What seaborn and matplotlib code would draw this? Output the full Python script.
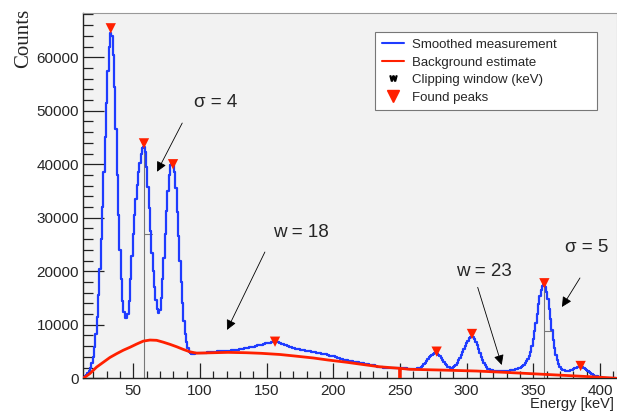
import numpy as np
import pandas as pd
import matplotlib
matplotlib.use("Agg")
import matplotlib.pyplot as plt
import seaborn as sns
from matplotlib.lines import Line2D

# spectrum, three pieces: 1 keV bins 13-100, 2 keV bins 102-264, 1 keV bins 265-412
energia_1 = np.arange(13, 101)
conteggi_1 = [
    200, 400, 600, 900, 1300, 1900, 2800, 4000, 5800, 8300,
    11500, 15500, 20500, 26000, 32000, 38500, 45000, 51500, 57500, 62000,
    64500, 64000, 60500, 54500, 46500, 38000, 30500, 24000, 18500, 14500,
    12300, 11300, 11200, 12000, 14500, 18500, 22800, 27000, 30500, 33500,
    36200, 38500, 40300, 41900, 43000, 43300, 42300, 39500, 35800, 31800,
    27500, 23500, 20000, 17000, 14600, 12900, 12200, 12800, 15000, 18500,
    22500, 27000, 31300, 35000, 38000, 39800, 40100, 39800, 38500, 35500,
    31000, 26500, 22000, 18000, 14000, 10800, 8300, 6700, 5600, 5000,
    4700, 4550, 4500, 4550, 4650, 4750, 4780, 4780,
]
energia_2 = np.arange(102, 265, 2)
conteggi_2 = [
    4750, 4800, 4850, 4900, 4950, 5000, 5050, 5080, 5100, 5130,
    5160, 5220, 5300, 5380, 5450, 5520, 5600, 5700, 5820, 5930,
    6040, 6170, 6300, 6420, 6550, 6650, 6750, 6830, 6800, 6600,
    6400, 6230, 6000, 5800, 5650, 5500, 5420, 5350, 5260, 5170,
    5080, 5000, 4900, 4800, 4700, 4600, 4480, 4380, 4250, 4100,
    3950, 3800, 3650, 3500, 3400, 3300, 3200, 3100, 3000, 2900,
    2800, 2700, 2600, 2500, 2400, 2280, 2180, 2080, 2000, 1950,
    1920, 1900, 1880, 1870, 1860, 1850, 1840, 1820, 1800, 1790,
    1800, 1850,
]
energia_3 = np.arange(265, 413)
conteggi_3 = [
    1950, 2100, 2300, 2600, 2950, 3300, 3650, 3950, 4200, 4400,
    4550, 4650, 4680, 4600, 4400, 4100, 3750, 3400, 3050, 2750,
    2450, 2200, 2050, 1950, 1950, 2050, 2250, 2550, 2900, 3350,
    3850, 4350, 4900, 5450, 6000, 6550, 7050, 7450, 7700, 7800,
    7700, 7350, 6850, 6200, 5500, 4750, 4050, 3400, 2850, 2400,
    2050, 1800, 1650, 1550, 1480, 1430, 1400, 1380, 1370, 1360,
    1360, 1360, 1360, 1370, 1380, 1400, 1420, 1440, 1470, 1510,
    1560, 1630, 1700, 1780, 1870, 1980, 2120, 2300, 2520, 2800,
    3150, 3600, 4200, 5000, 6000, 7300, 8800, 10400, 12100, 13800,
    15300, 16500, 17200, 17400, 17100, 16200, 14800, 13000, 11000, 9000,
    7200, 5700, 4400, 3400, 2700, 2150, 1800, 1600, 1480, 1420,
    1400, 1400, 1430, 1500, 1600, 1720, 1850, 1980, 2090, 2170,
    2200, 2170, 2080, 1950, 1780, 1580, 1380, 1180, 990, 810,
    650, 520, 420, 340, 280, 230, 190, 150, 120, 95,
    75, 55, 40, 30, 20, 12, 6, 0,
]

# background estimate
fondo_x = [12.5, 17.5, 22.5, 27.5, 32.5, 37.5, 42.5, 47.5, 52.5, 57.5,
           62.5, 67.5, 72.5, 77.5, 82.5, 87.5, 92.5, 97.5, 110, 121,
           135, 146, 160, 171, 185, 196, 210, 221, 235, 249.6,
           250, 250.4, 257.5, 280, 307.5, 330, 357.5, 382.5, 400, 412.5]
fondo_y = [0, 900, 2100, 3000, 3900, 4600, 5250, 5800, 6400, 6950,
           7150, 7100, 6750, 6350, 5900, 5400, 4950, 4700, 4780, 4850,
           4780, 4670, 4450, 4170, 3800, 3420, 3000, 2620, 2150, 1870,
           0, 1850, 1680, 1550, 1360, 1100, 750, 430, 200, 0]

# found peaks (marker positions)
picchi_x = [33.1, 58.0, 79.8, 156.3, 277.5, 304.0, 358.3, 385.5]
picchi_y = [65400, 43900, 40000, 6840, 4980, 8280, 17760, 2300]

# peak position / width markers
marca_x = [58.3, 358.3]
marca_top = [43300, 17300]
marca_meta = [26900, 8840]
marca_dx = [5.5, 5.5]

# annotations: text, text position, arrow start, arrow end
note_testo = ["σ = 4", "w = 18", "w = 23", "σ = 5"]
note_pos = [(112, 51500), (176, 27300), (313, 20000), (390, 24500)]
note_da = [(86.7, 47700), (148.7, 23600), (308.3, 17000), (385, 18750)]
note_a = [(67.8, 38600), (120.3, 9040), (326.3, 2490), (371.5, 13330)]

sns.set_theme(style="ticks")
plt.rcParams["font.family"] = ["Liberation Sans", "DejaVu Sans"]

fig = plt.figure(figsize=(6.17, 4.13), dpi=100)
ax = fig.add_axes([0.135, 0.084, 0.8644, 0.885])
ax.set_facecolor("#f2f2f2")

blu = "#1f3cff"
rosso = "#ff2000"

df = pd.DataFrame({
    "Energia": np.concatenate([energia_1, energia_2, energia_3]),
    "Conteggi": conteggi_1 + conteggi_2 + conteggi_3,
})
sns.lineplot(data=df, x="Energia", y="Conteggi", ax=ax, color=blu, lw=1.6,
             drawstyle="steps-mid", zorder=3)
sns.lineplot(x=fondo_x, y=fondo_y, ax=ax, color=rosso, lw=2.0, sort=False,
             estimator=None, zorder=4)

for xm, yt, ym, dx in zip(marca_x, marca_top, marca_meta, marca_dx):
    ax.plot([xm, xm], [0, yt], color="#777777", lw=0.8, zorder=2)
    ax.plot([xm, xm + dx], [ym, ym], color="#777777", lw=0.8, zorder=2)

sns.scatterplot(x=picchi_x, y=picchi_y, ax=ax, marker="v", color=rosso,
                s=55, edgecolor="none", zorder=5)

for t, p, a, b in zip(note_testo, note_pos, note_da, note_a):
    ax.text(p[0], p[1], t, fontsize=13.5, ha="center", va="center")
    ax.annotate("", xy=b, xytext=a,
                arrowprops=dict(arrowstyle="-|>", color="black", lw=0.6,
                                mutation_scale=15, shrinkA=0, shrinkB=0))

ax.set_xlim(12.5, 412.5)
ax.set_ylim(0, 68300)
ax.set_xticks(np.arange(50, 401, 50))
ax.set_xticks(np.arange(20, 411, 10), minor=True)
ax.set_yticks(np.arange(0, 60001, 10000))
ax.set_yticks(np.arange(0, 68001, 2000), minor=True)
ax.tick_params(axis="both", which="both", direction="in", labelsize=11,
               color="#222222")
ax.tick_params(axis="y", which="major", length=15, width=0.9, pad=3)
ax.tick_params(axis="y", which="minor", length=7, width=0.9)
ax.tick_params(axis="x", which="major", length=11, width=0.9, pad=4)
ax.tick_params(axis="x", which="minor", length=5, width=0.9)
for s in ["left", "bottom"]:
    ax.spines[s].set_color("#222222")
    ax.spines[s].set_linewidth(1.0)
for s in ["top", "right"]:
    ax.spines[s].set_color("#999999")
    ax.spines[s].set_linewidth(0.8)

ax.set_xlabel("Energy [keV]", fontsize=10.5, ha="right")
ax.xaxis.set_label_coords(0.995, -0.052)
ax.set_ylabel("Counts", fontsize=15, family="Liberation Serif", ha="right")
ax.yaxis.set_label_coords(-0.095, 1.012)

maniglie = [
    Line2D([], [], color=blu, lw=1.5),
    Line2D([], [], color=rosso, lw=1.5),
    Line2D([], [], ls="none", marker=r"$\mathrm{w}$", color="black", markersize=5),
    Line2D([], [], ls="none", marker="v", color=rosso, markersize=9),
]
etichette = ["Smoothed measurement", "Background estimate",
             "Clipping window (keV)", "Found peaks"]
leg = ax.legend(maniglie, etichette, loc="upper left",
                bbox_to_anchor=(0.547, 0.739, 0.416, 0.208), mode="expand",
                fontsize=9.5, frameon=True, fancybox=False, framealpha=1,
                edgecolor="#777777", handlelength=1.7, handletextpad=0.6,
                labelspacing=0.4, borderaxespad=0, borderpad=0.5)
leg.get_frame().set_linewidth(0.8)

plt.savefig("out.png", dpi=100)
